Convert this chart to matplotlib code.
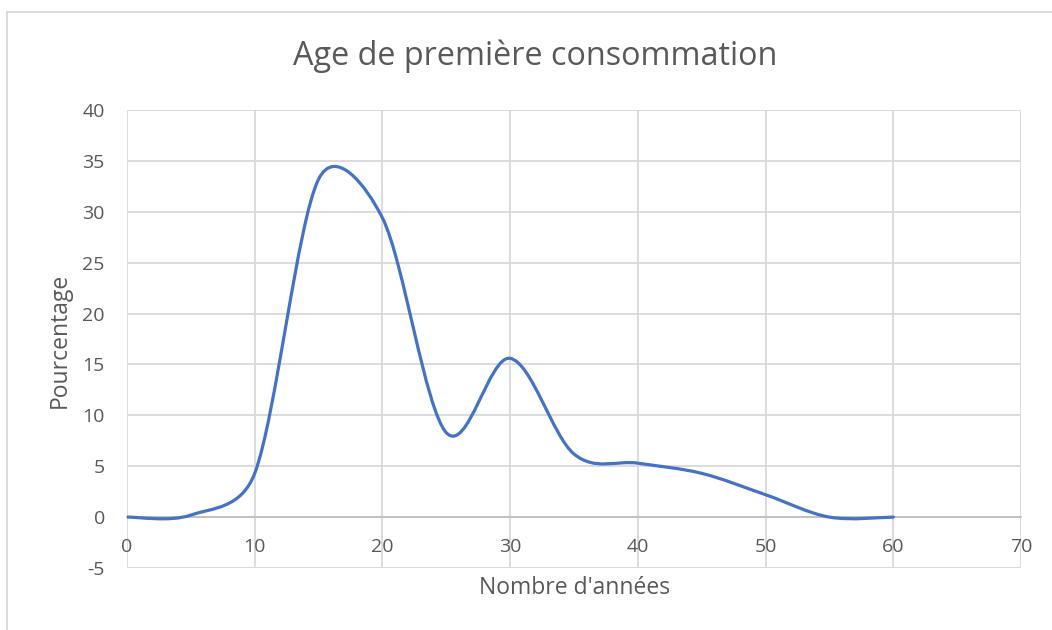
import numpy as np
import matplotlib
matplotlib.use("Agg")
import matplotlib.pyplot as plt
from matplotlib.path import Path
from matplotlib.patches import PathPatch
from matplotlib.lines import Line2D

plt.rcParams['font.family'] = ['Open Sans', 'DejaVu Sans']
plt.rcParams['axes.unicode_minus'] = False

# age (years) vs percentage
ages = [0, 5, 10, 15, 20, 25, 30, 35, 40, 45, 50, 55, 60]
pourcentage = [0, 0.2, 4.3, 33.2, 29.4, 8.3, 15.6, 6.2, 5.3, 4.3, 2.2, 0, 0]

title = "Age de première consommation"
xlabel = "Nombre d'années"
ylabel = "Pourcentage"

txt_col = "#595959"
grid_col = "#d9d9d9"
line_col = "#4472c4"


def smooth_path(ax, x, y):
    """Bezier path through the points, like a smoothed Excel line.
    tangent = (next - prev)/6, but never longer than half the segment (in pixels)"""
    pts = ax.transData.transform(np.column_stack([x, y]).astype(float))
    n = len(pts)
    d = np.hypot(*np.diff(pts, axis=0).T)

    def ctrl(t, seg):
        ln = np.hypot(*t)
        if ln > seg / 2:
            t = t * (seg / 2) / ln
        return t

    verts = [pts[0]]
    codes = [Path.MOVETO]
    for i in range(n - 1):
        p0 = pts[i]
        p1 = pts[i + 1]
        t0 = (pts[min(i + 1, n - 1)] - pts[max(i - 1, 0)]) / 6
        t1 = (pts[min(i + 2, n - 1)] - pts[i]) / 6
        c1 = p0 + ctrl(t0, d[i])
        c2 = p1 - ctrl(t1, d[i])
        verts += [c1, c2, p1]
        codes += [Path.CURVE4] * 3
    verts = ax.transData.inverted().transform(np.array(verts))
    return Path(verts, codes)


fig = plt.figure(figsize=(10.52, 6.3), dpi=100)
ax = fig.add_axes([127/1052, 1 - 568/630, (1021-127)/1052, (568-110)/630])

ax.set_xlim(0, 70)
ax.set_ylim(-5, 40)

patch = PathPatch(smooth_path(ax, ages, pourcentage), facecolor="none",
                  edgecolor=line_col, lw=2.3, capstyle="round", zorder=3)
ax.add_patch(patch)

ax.set_xticks(np.arange(0, 71, 10))
ax.set_yticks(np.arange(-5, 41, 5))
ax.grid(True, color=grid_col, lw=1.3)
ax.set_axisbelow(True)

for s in ["top", "right", "left"]:
    ax.spines[s].set_visible(False)
ax.spines["bottom"].set_position(("data", 0))
ax.spines["bottom"].set_color("#bfbfbf")
ax.spines["bottom"].set_linewidth(1.3)
ax.spines["bottom"].set_zorder(2)
# grid line at the bottom of the plot area
ax.axhline(-5, color=grid_col, lw=1.3, zorder=1)

ax.tick_params(axis="both", length=0, labelsize=14, labelcolor=txt_col)
ax.tick_params(axis="x", pad=15)
ax.tick_params(axis="y", pad=16)

fig.text(535/1052, 1 - 56/630, title, ha="center", va="center",
         fontsize=23.3, color=txt_col)
fig.text(575/1052, 1 - 588/630, xlabel, ha="center", va="center",
         fontsize=16.5, color=txt_col)
fig.text(60/1052, 1 - 340/630, ylabel, ha="center", va="center",
         rotation=90, fontsize=16.5, color=txt_col)

# chart frame (cropped at the right and bottom)
fig.add_artist(Line2D([7/1052, 1], [1 - 12/630, 1 - 12/630],
                      transform=fig.transFigure, color=grid_col, lw=1.3))
fig.add_artist(Line2D([7/1052, 7/1052], [0, 1 - 12/630],
                      transform=fig.transFigure, color=grid_col, lw=1.3))

fig.savefig("out.png", dpi=100)
